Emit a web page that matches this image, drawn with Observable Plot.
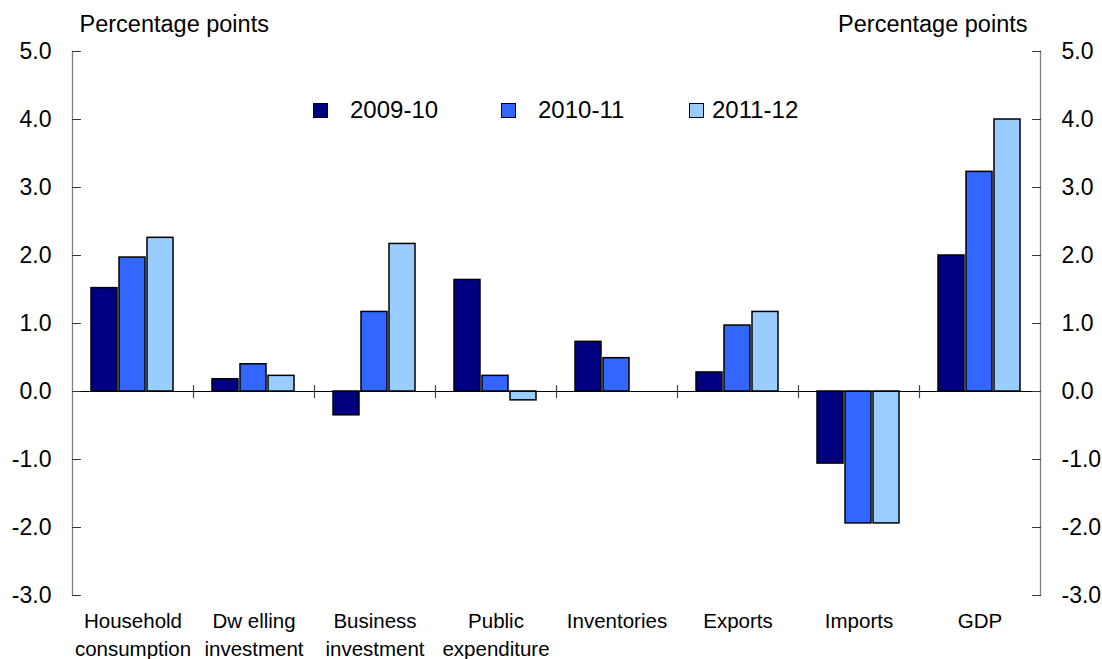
<!DOCTYPE html>
<html><head><meta charset="utf-8">
<script src="https://cdn.jsdelivr.net/npm/d3@7"></script>
<script src="https://cdn.jsdelivr.net/npm/@observablehq/plot@0.6"></script>
<style>
body{margin:0;background:#fff;font-family:"Liberation Sans",Arial,sans-serif}
#wrap{position:relative;width:1102px;height:659px;overflow:hidden}
.lg{position:absolute;top:96px;height:28px;display:flex;align-items:center;font-size:24px;color:#000}
.sw{width:13px;height:13px;border:1.5px solid #000;display:inline-block}
</style></head><body><div id="wrap"></div>
<script>
const categories = ["Household\nconsumption","Dw elling\ninvestment","Business\ninvestment","Public\nexpenditure","Inventories","Exports","Imports","GDP"];
const seriesNames = ["2009-10","2010-11","2011-12"];
const v0910 = [1.52, 0.18, -0.35, 1.64, 0.73, 0.28, -1.06, 2.00];
const v1011 = [1.97, 0.40, 1.17, 0.23, 0.49, 0.97, -1.94, 3.23];
const v1112 = [2.26, 0.23, 2.17, -0.13, null, 1.17, -1.94, 4.00];
const colors = ["#000080", "#3366FF", "#99CCFF"];
const yTicks = [-3, -2, -1, 0, 1, 2, 3, 4, 5];
const axisTitle = "Percentage points";

const seriesValues = [v0910, v1011, v1112];
const rows = [];
categories.forEach((c, i) => seriesNames.forEach((s, j) => {
  const v = seriesValues[j][i];
  if (v != null) rows.push({cat: c, series: s, value: v});
}));

const lineShape = {draw(ctx, l) { ctx.moveTo(0, 0); ctx.lineTo(0, -l); }};
const fmt = d => d.toFixed(1);

const chart = Plot.plot({
  width: 1102, height: 659,
  marginTop: 51, marginBottom: 64, marginLeft: 72, marginRight: 62,
  style: {fontFamily: "'Liberation Sans', Arial, sans-serif", color: "#000", background: "#fff"},
  fx: {domain: categories, padding: 0, axis: null, label: null},
  x: {domain: seriesNames, paddingInner: 0.055, paddingOuter: 0.65, axis: null},
  y: {domain: [-3, 5], axis: null},
  color: {domain: seriesNames, range: colors},
  marks: [
    Plot.barY(rows, {fx: "cat", x: "series", y: "value", fill: "series", stroke: "#000", strokeWidth: 1.5}),
    Plot.ruleY([0], {stroke: "#000", strokeWidth: 1}),
    Plot.vector(categories.slice(1), {fx: d => d, y: () => 0, frameAnchor: "left", rotate: 0, length: 12, anchor: "middle", shape: lineShape, stroke: "#444", strokeWidth: 1.2}),
    Plot.frame({anchor: "left", facetAnchor: "left", stroke: "#808080", strokeWidth: 1.3}),
    Plot.frame({anchor: "right", facetAnchor: "right", stroke: "#808080", strokeWidth: 1.3}),
    Plot.vector(yTicks, {y: d => d, frameAnchor: "left", facetAnchor: "left", rotate: 90, length: 8, anchor: "start", shape: lineShape, stroke: "#333", strokeWidth: 1.2}),
    Plot.vector(yTicks, {y: d => d, frameAnchor: "right", facetAnchor: "right", rotate: -90, length: 8, anchor: "start", shape: lineShape, stroke: "#333", strokeWidth: 1.2}),
    Plot.axisY(yTicks, {anchor: "left", facetAnchor: "left", tickSize: 0, tickPadding: 21, tickFormat: fmt, fontSize: 23, label: null}),
    Plot.axisY(yTicks, {anchor: "right", facetAnchor: "right", tickSize: 0, tickPadding: 21, tickFormat: fmt, fontSize: 23, label: null}),
    Plot.axisFx({anchor: "bottom", tickSize: 0, tickPadding: 13, fontSize: 20.5, lineHeight: 1.36, label: null}),
    Plot.text([axisTitle], {frameAnchor: "top-left", facetAnchor: "left", dx: 7, dy: -27, textAnchor: "start", lineAnchor: "middle", fontSize: 23.5}),
    Plot.text([axisTitle], {frameAnchor: "top-right", facetAnchor: "right", dx: -13, dy: -27, textAnchor: "end", lineAnchor: "middle", fontSize: 23.5})
  ]
});
const wrap = document.getElementById("wrap");
wrap.appendChild(chart);

const legendLeft = [313, 501, 689];
const legendGap = [22, 22, 8];
seriesNames.forEach((s, i) => {
  const d = document.createElement("div");
  d.className = "lg";
  d.style.left = legendLeft[i] + "px";
  d.innerHTML = `<span class="sw" style="background:${colors[i]};margin-right:${legendGap[i]}px"></span><span>${s}</span>`;
  wrap.appendChild(d);
});
</script>
</body></html>
